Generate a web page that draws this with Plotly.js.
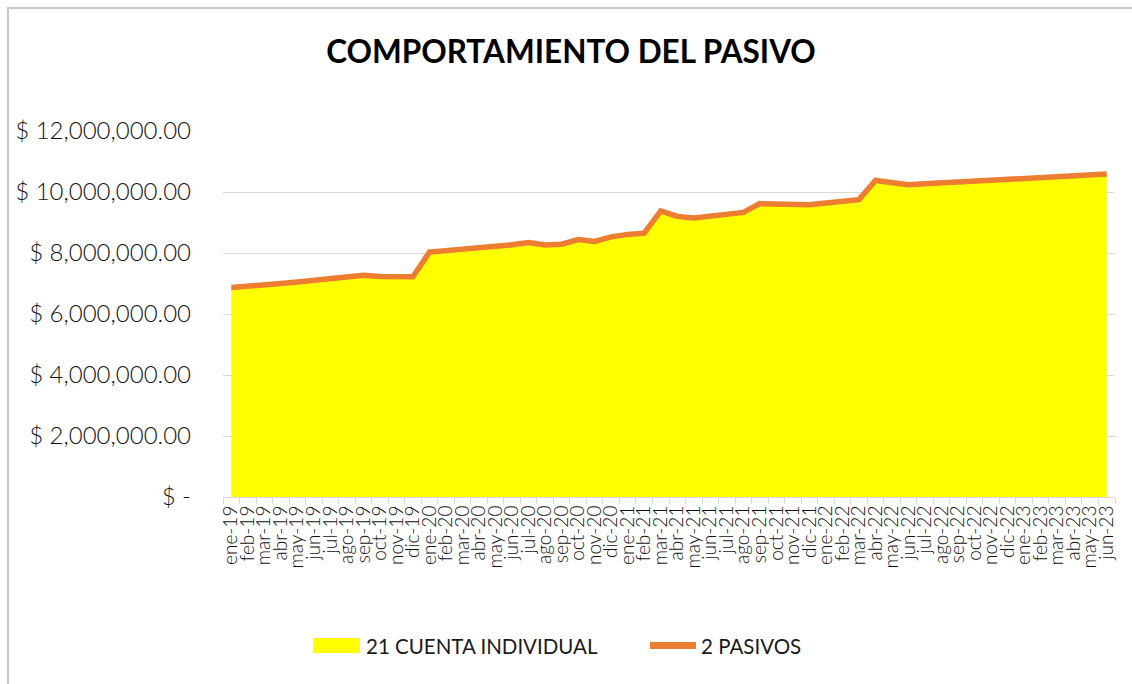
<!DOCTYPE html>
<html>
<head>
<meta charset="utf-8">
<script src="https://cdn.plot.ly/plotly-3.0.1.min.js"></script>
<style>
  html, body { margin: 0; padding: 0; overflow: hidden; background: #fff; }
  #frame { position: absolute; left: 7px; top: 7px; width: 1200px; height: 900px; border-top: 2px solid #c6c6c6; border-left: 2px solid #c6c6c6; box-sizing: border-box; }
  #chart { position: absolute; left: 0; top: 0; width: 1132px; height: 684px; }
</style>
</head>
<body>
<div id="frame"></div>
<div id="chart"></div>
<script>
const months = [
  "ene-19","feb-19","mar-19","abr-19","may-19","jun-19","jul-19","ago-19","sep-19","oct-19","nov-19","dic-19",
  "ene-20","feb-20","mar-20","abr-20","may-20","jun-20","jul-20","ago-20","sep-20","oct-20","nov-20","dic-20",
  "ene-21","feb-21","mar-21","abr-21","may-21","jun-21","jul-21","ago-21","sep-21","oct-21","nov-21","dic-21",
  "ene-22","feb-22","mar-22","abr-22","may-22","jun-22","jul-22","ago-22","sep-22","oct-22","nov-22","dic-22",
  "ene-23","feb-23","mar-23","abr-23","may-23","jun-23"
];
const cuentaIndividual = [
  6870000, 6900000, 6950000, 7000000, 7050000, 7100000, 7150000, 7200000, 7270000, 7230000, 7210000, 7220000,
  8030000, 8080000, 8090000, 8150000, 8210000, 8270000, 8340000, 8260000, 8290000, 8440000, 8380000, 8530000,
  8610000, 8650000, 9380000, 9200000, 9150000, 9200000, 9270000, 9330000, 9620000, 9610000, 9570000, 9580000,
  9640000, 9700000, 9750000, 10380000, 10300000, 10240000, 10270000, 10300000, 10330000, 10360000, 10390000, 10410000,
  10440000, 10470000, 10500000, 10530000, 10560000, 10590000
];
const pasivos = cuentaIndividual.slice();
const yTickVals = [0, 2000000, 4000000, 6000000, 8000000, 10000000, 12000000];
const yTickText = ["$ -", "$ 2,000,000.00", "$ 4,000,000.00", "$ 6,000,000.00", "$ 8,000,000.00", "$ 10,000,000.00", "$ 12,000,000.00"];
const seriesNames = ["21 CUENTA INDIVIDUAL", "2 PASIVOS"];
const seriesColors = ["#FFFF00", "#ED7D31"];

const FONT = "Lato, 'Open Sans', sans-serif";

const traces = [
  {
    x: months, y: cuentaIndividual, type: "scatter", mode: "lines",
    name: seriesNames[0], fill: "tozeroy", fillcolor: seriesColors[0],
    line: { width: 0, color: seriesColors[0] }, showlegend: false
  },
  {
    x: months, y: pasivos, type: "scatter", mode: "lines",
    name: seriesNames[1], line: { width: 5.5, color: seriesColors[1] }, showlegend: false
  }
];

// plot area in pixels: x 223..1115, y 131..497
const PX0 = 223, PW = 892, PY1 = 497, PH = 366;
const px = v => (v - PX0) / PW;
const py = v => (PY1 - v) / PH;

const legendY = 645.5;
const shapes = [
  { type: "rect", xref: "paper", yref: "paper", x0: px(313), x1: px(360), y0: py(638), y1: py(653),
    fillcolor: seriesColors[0], line: { width: 0 } },
  { type: "line", xref: "paper", yref: "paper", x0: px(650), x1: px(696), y0: py(legendY), y1: py(legendY),
    line: { color: seriesColors[1], width: 7 } }
];
const annotations = [
  { xref: "paper", yref: "paper", x: px(364), y: py(legendY), xanchor: "left", yanchor: "middle",
    text: seriesNames[0], showarrow: false, font: { family: FONT, size: 20.5, color: "#1a1a1a" } },
  { xref: "paper", yref: "paper", x: px(699), y: py(legendY), xanchor: "left", yanchor: "middle",
    text: seriesNames[1], showarrow: false, font: { family: FONT, size: 20.5, color: "#1a1a1a" } }
];

const layout = {
  width: 1132, height: 684,
  paper_bgcolor: "rgba(0,0,0,0)", plot_bgcolor: "rgba(0,0,0,0)",
  margin: { l: 223, r: 17, t: 131, b: 187 },
  font: { family: FONT, color: "#1a1a1a" },
  title: {
    text: "<b>COMPORTAMIENTO DEL PASIVO</b>",
    font: { family: FONT, size: 31.5, color: "#000" },
    x: 571 / 1132, xanchor: "center", xref: "container", y: 1 - 52 / 684, yanchor: "middle", yref: "container"
  },
  xaxis: {
    type: "category", range: [-0.5, 53.5],
    tickmode: "array", tickvals: months, ticktext: months,
    tickangle: -90, tickfont: { size: 19, family: FONT, color: "#111111", weight: 300 },
    ticks: "outside", tickson: "boundaries", ticklen: 6, tickcolor: "#d9d9d9",
    showline: true, linecolor: "#d9d9d9", linewidth: 1, automargin: false,
    showgrid: false, zeroline: false, fixedrange: true
  },
  yaxis: {
    range: [0, 12000000], tickmode: "array", tickvals: yTickVals, ticktext: yTickText,
    tickfont: { size: 24, family: FONT, color: "#111111", weight: 300 },
    showgrid: true, gridcolor: "#d9d9d9", gridwidth: 1, automargin: false,
    zeroline: false, showline: false, ticks: "", ticklabelstandoff: 31,
    fixedrange: true
  },
  showlegend: false,
  shapes: shapes,
  annotations: annotations,
  hovermode: false
};

Plotly.newPlot("chart", traces, layout, { displayModeBar: false, staticPlot: true });
</script>
</body>
</html>
